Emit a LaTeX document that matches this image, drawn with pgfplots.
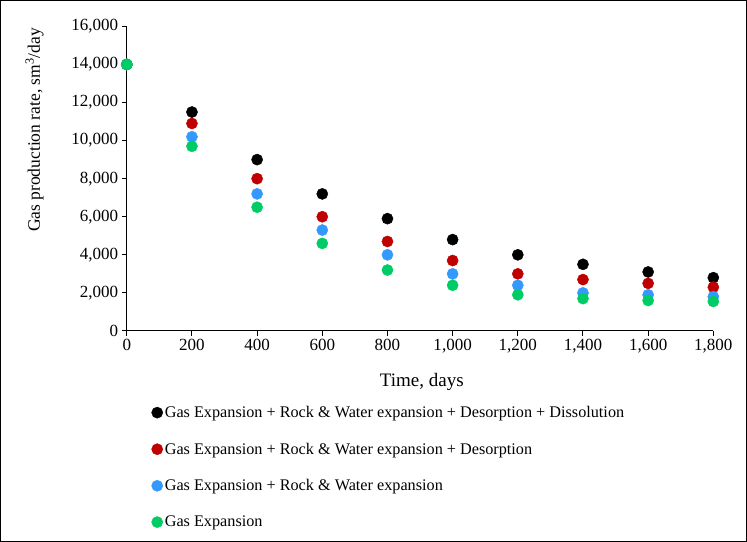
\documentclass[border=0pt]{standalone}
\usepackage{pgfplots}
\pgfplotsset{compat=1.18}
\usepackage{fontspec}
\setmainfont{Liberation Serif}

\definecolor{sBlack}{RGB}{0,0,0}
\definecolor{sRed}{RGB}{192,0,0}
\definecolor{sBlue}{RGB}{51,153,255}
\definecolor{sGreen}{RGB}{0,204,102}

\begin{document}
\begin{tikzpicture}
% outer frame
\draw[line width=1.3pt] (1pt,1pt) rectangle (746pt,541pt);
\begin{axis}[
  at={(127pt,211pt)}, anchor=south west,
  scale only axis, width=586pt, height=304.3pt,
  xmin=0, xmax=1800, ymin=0, ymax=16000,
  xtick={0,200,...,1800}, ytick={0,2000,...,16000},
  axis x line*=bottom, axis y line*=left,
  axis line style={line width=1pt, -},
  tick style={black, line width=1pt},
  tick align=outside, major tick length=5pt,
  tick label style={font=\fontsize{17}{20}\selectfont},
  /pgf/number format/assume math mode=true,
  /pgf/number format/1000 sep={,},
  scaled y ticks=false, scaled x ticks=false,
  xlabel={Time, days},
  ylabel={Gas production rate, sm\textsuperscript{3}/day},
  xlabel style={font=\fontsize{19}{22}\selectfont,
    at={(axis description cs:0.503,-0.168)}, anchor=center},
  ylabel style={font=\fontsize{17.5}{21}\selectfont,
    at={(axis description cs:-0.157,0.66)}, anchor=center},
  clip=false,
  legend cell align=left,
  legend style={at={(axis description cs:0.042,-0.24)}, anchor=north west,
    draw=none, fill=none, font=\fontsize{16.2}{19}\selectfont,
    row sep=19.8pt, inner sep=0pt},
  legend image code/.code={\draw[#1] plot coordinates {(6pt,0pt)};},
  every axis plot/.append style={only marks, mark=*, mark size=5.6pt},
]
\addplot[sBlack, mark options={fill=sBlack, draw=sBlack}] coordinates {
(0,14000) (200,11500) (400,9000) (600,7200) (800,5900) (1000,4800)
(1200,4000) (1400,3500) (1600,3100) (1800,2800)};
\addlegendentry{Gas Expansion + Rock \& Water expansion + Desorption + Dissolution}
\addplot[sRed, mark options={fill=sRed, draw=sRed}] coordinates {
(0,14000) (200,10900) (400,8000) (600,6000) (800,4700) (1000,3700)
(1200,3000) (1400,2700) (1600,2500) (1800,2300)};
\addlegendentry{Gas Expansion + Rock \& Water expansion + Desorption}
\addplot[sBlue, mark options={fill=sBlue, draw=sBlue}] coordinates {
(0,14000) (200,10200) (400,7200) (600,5300) (800,4000) (1000,3000)
(1200,2400) (1400,2000) (1600,1900) (1800,1800)};
\addlegendentry{Gas Expansion + Rock \& Water expansion}
\addplot[sGreen, mark options={fill=sGreen, draw=sGreen}] coordinates {
(0,14000) (200,9700) (400,6500) (600,4600) (800,3200) (1000,2400)
(1200,1900) (1400,1700) (1600,1600) (1800,1550)};
\addlegendentry{Gas Expansion}
\end{axis}
\end{tikzpicture}
\end{document}
